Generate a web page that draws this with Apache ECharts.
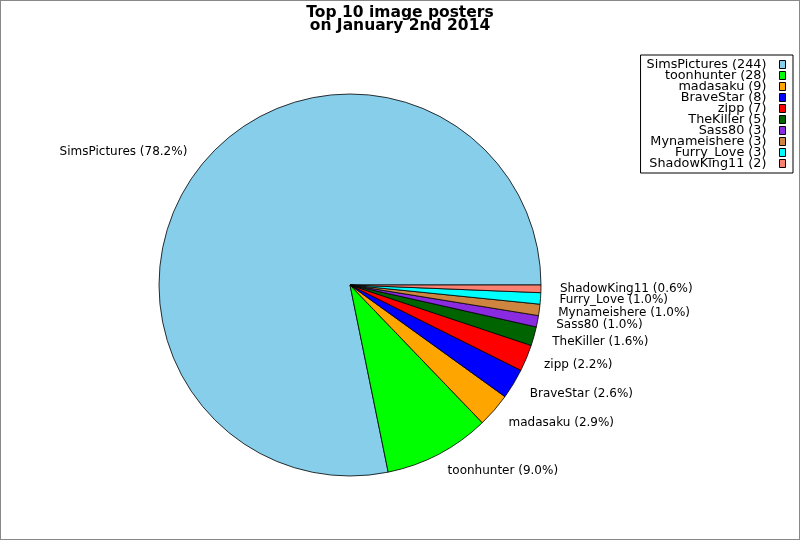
<!DOCTYPE html>
<html>
<head>
<meta charset="utf-8">
<script src="https://cdn.jsdelivr.net/npm/echarts@6/dist/echarts.min.js"></script>
<style>
html,body{margin:0;padding:0;background:#fff;}
#chart{width:800px;height:540px;}
</style>
</head>
<body>
<div id="chart"></div>
<script>
const names = ['SimsPictures','toonhunter','madasaku','BraveStar','zipp','TheKiller','Sass80','Mynameishere','Furry_Love','ShadowKing11'];
const counts = [244, 28, 9, 8, 7, 5, 3, 3, 3, 2];
const colors = ['#87CEEB','#00FF00','#FFA500','#0000FF','#FF0000','#006400','#8A2BE2','#CD853F','#00FFFF','#FA8072'];
const titleLines = ['Top 10 image posters', 'on January 2nd 2014'];

const total = counts.reduce((a, b) => a + b, 0);
const font = 'DejaVu Sans';
const chart = echarts.init(document.getElementById('chart'));
chart.setOption({
  animation: false,
  backgroundColor: '#fff',
  color: colors,
  title: {
    text: titleLines.join('\n'),
    left: 'center',
    top: 1,
    textStyle: { fontFamily: font, fontSize: 15.5, fontWeight: 'bold', color: '#000', lineHeight: 13.5 }
  },
  legend: {
    orient: 'vertical',
    right: 7,
    top: 55,
    align: 'right',
    itemWidth: 6,
    itemHeight: 8,
    itemGap: -2,
    padding: [3, 7, 3, 6],
    borderColor: '#000',
    borderWidth: 1,
    backgroundColor: '#fff',
    icon: 'rect',
    itemStyle: { borderColor: '#000', borderWidth: 1 },
    formatter: function (n) { return n + ' (' + counts[names.indexOf(n)] + ')'; },
    textStyle: { fontFamily: font, fontSize: 12.8, color: '#000', lineHeight: 11, height: 11, padding: [0, 8, 0, 0] },
    data: names
  },
  graphic: [{
    type: 'rect', silent: true, z: 100,
    shape: { x: 0, y: 0, width: 800, height: 540 },
    style: { fill: 'none', stroke: '#888', lineWidth: 2 }
  }],
  series: [{
    type: 'pie',
    center: [350, 285],
    radius: 191,
    startAngle: 0,
    clockwise: false,
    avoidLabelOverlap: false,
    minShowLabelAngle: 0,
    itemStyle: { borderColor: '#000', borderWidth: 0.8 },
    labelLayout: { hideOverlap: false, moveOverlap: null },
    label: {
      show: true,
      position: 'outside',
      fontFamily: font,
      fontSize: 12,
      color: '#000',
      distanceToLabelLine: 0,
      formatter: function (p) { return p.name + ' (' + (p.value / total * 100).toFixed(1) + '%)'; }
    },
    labelLine: { show: false, length: 19, length2: 0 },
    emphasis: { disabled: true },
    data: names.map((n, i) => ({ name: n, value: counts[i] }))
  }]
});
</script>
</body>
</html>
